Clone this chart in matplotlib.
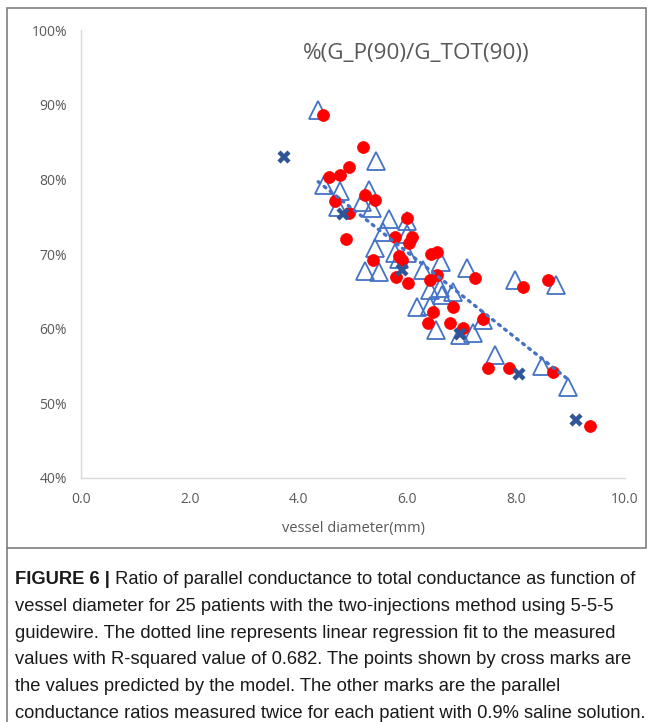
import matplotlib
matplotlib.use("Agg")
import matplotlib.pyplot as plt
from matplotlib.patches import Rectangle
from matplotlib.lines import Line2D
import numpy as np

# ---- data ----
tri_x = [4.36, 5.42, 4.47, 4.77, 4.73, 5.30, 5.17, 5.35, 5.66, 6.00, 5.55, 6.00,
         5.40, 5.77, 6.00, 5.22, 5.48, 6.29, 6.62, 7.09, 6.42, 6.60, 6.64, 6.84,
         6.18, 6.42, 6.52, 6.97, 7.21, 7.39, 7.61, 7.98, 8.73, 8.47, 8.95, 5.85]
tri_y = [89.3, 82.5, 79.2, 78.4, 76.3, 78.6, 77.0, 76.1, 74.7, 74.4, 72.9, 72.7,
         70.8, 70.1, 70.1, 67.7, 67.6, 67.8, 68.9, 68.1, 65.2, 65.4, 64.5, 64.9,
         62.9, 63.0, 59.8, 59.1, 59.4, 61.2, 56.5, 66.5, 65.9, 55.0, 52.2, 69.3]

dot_x = [4.45, 5.18, 4.93, 4.76, 4.56, 4.67, 5.22, 5.40, 4.93, 4.87, 6.00, 5.77,
         6.08, 6.03, 5.37, 5.85, 5.90, 6.43, 6.54, 5.79, 6.01, 6.54, 6.42, 7.24,
         6.84, 6.47, 6.38, 6.78, 7.02, 7.39, 8.13, 8.58, 7.48, 7.87, 8.68, 9.36]
dot_y = [88.6, 84.3, 81.6, 80.6, 80.3, 77.1, 77.9, 77.2, 75.5, 72.0, 74.8, 72.3,
         72.3, 71.5, 69.2, 69.7, 69.2, 70.0, 70.3, 66.9, 66.1, 67.2, 66.5, 66.8,
         62.9, 62.2, 60.8, 60.8, 60.1, 61.3, 65.6, 66.5, 54.7, 54.7, 54.2, 47.0]

model_x = [3.73, 4.82, 5.90, 6.97, 8.05, 9.10]
model_y = [83.0, 75.3, 67.8, 59.3, 53.9, 47.8]

x_ticks = [0, 2, 4, 6, 8, 10]
x_ticklabels = ["0.0", "2.0", "4.0", "6.0", "8.0", "10.0"]
y_ticks = [40, 50, 60, 70, 80, 90, 100]
y_ticklabels = ["40%", "50%", "60%", "70%", "80%", "90%", "100%"]

title = "%(G_P(90)/G_TOT(90))"
xlabel = "vessel diameter(mm)"
caption_bold = "FIGURE 6 |"
caption_lines = [
    " Ratio of parallel conductance to total conductance as function of",
    "vessel diameter for 25 patients with the two-injections method using 5-5-5",
    "guidewire. The dotted line represents linear regression fit to the measured",
    "values with R-squared value of 0.682. The points shown by cross marks are",
    "the values predicted by the model. The other marks are the parallel",
    "conductance ratios measured twice for each patient with 0.9% saline solution.",
]

W, H = 655, 722
fig = plt.figure(figsize=(W / 100, H / 100), dpi=100)
fig.patch.set_facecolor("white")

ax = fig.add_axes([81 / W, 1 - 478 / H, (625 - 81) / W, (478 - 30) / H])
ax.set_xlim(0, 10)
ax.set_ylim(40, 100)

# triangles (first measurement)
ax.plot(tri_x, tri_y, linestyle="none", marker="^", markersize=12.5,
        markerfacecolor="none", markeredgecolor="#4472C4", markeredgewidth=1.3,
        clip_on=False, zorder=3)
# red dots (second measurement)
ax.plot(dot_x, dot_y, linestyle="none", marker="o", markersize=8.6,
        markerfacecolor="#FF0000", markeredgecolor="#FF0000", markeredgewidth=0.5,
        clip_on=False, zorder=4)
# model predictions (crosses)
ax.plot(model_x, model_y, linestyle="none", marker="x", markersize=6.5,
        markeredgecolor="#2F5597", markeredgewidth=3.2, clip_on=False, zorder=5)

# linear regression of the triangle series (dotted trendline)
coef = np.polyfit(tri_x, tri_y, 1)
xs = np.array([min(tri_x), max(tri_x)])
ax.plot(xs, np.polyval(coef, xs), linestyle=(0, (0.6, 1.7)), linewidth=2.4,
        color="#4472C4", dash_capstyle="round", zorder=6)

for s in ["top", "right"]:
    ax.spines[s].set_visible(False)
for s in ["left", "bottom"]:
    ax.spines[s].set_color("#D9D9D9")
    ax.spines[s].set_linewidth(1.0)

tick_font = dict(family=["Open Sans", "DejaVu Sans"], size=10, color="#595959")
ax.set_xticks(x_ticks)
ax.set_xticklabels(x_ticklabels, **tick_font)
ax.set_yticks(y_ticks)
ax.set_yticklabels(y_ticklabels, **tick_font)
ax.tick_params(axis="both", length=0)
ax.tick_params(axis="x", pad=10)
ax.tick_params(axis="y", pad=10)

ax.set_xlabel(xlabel, family=["Open Sans", "DejaVu Sans"], size=10.5,
              color="#595959", labelpad=10)

fig.text(416 / W, 1 - 53 / H, title, ha="center", va="center",
         family=["Open Sans", "DejaVu Sans"], size=16.2, color="#595959")

# chart border
fig.patches.append(Rectangle((7 / W, 1 - 548 / H), (646 - 7) / W, (548 - 8) / H,
                             transform=fig.transFigure, fill=False,
                             edgecolor="#7F7F7F", linewidth=1.2))
# caption left bar
fig.lines.append(Line2D([7 / W, 7 / W], [0, 1 - 548 / H], transform=fig.transFigure,
                        color="#7F7F7F", linewidth=1.2))

# caption
cap_font = dict(family=["Liberation Sans", "DejaVu Sans"], size=13.2, color="#1a1a1a")
y0 = 580
dy = 26.6
x0 = 15 / W
renderer = fig.canvas.get_renderer()
tb = fig.text(x0, 1 - y0 / H, caption_bold, ha="left", va="center",
              fontweight="bold", **cap_font)
bb = tb.get_window_extent(renderer=renderer)
fig.text(bb.x1 / W, 1 - y0 / H, caption_lines[0], ha="left", va="center", **cap_font)
for i, line in enumerate(caption_lines[1:], start=1):
    fig.text(x0, 1 - (y0 + i * dy) / H, line, ha="left", va="center", **cap_font)

fig.savefig("out.png", dpi=100, facecolor="white")
